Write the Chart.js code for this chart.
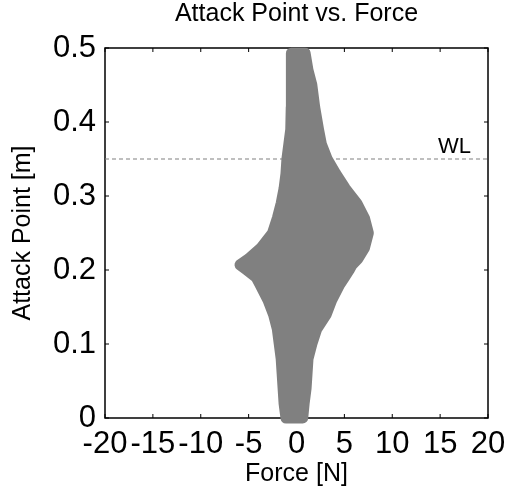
<!DOCTYPE html>
<html>
<head>
<meta charset="utf-8">
<script src="https://cdn.jsdelivr.net/npm/chart.js@4.4.0/dist/chart.umd.min.js"></script>
<style>
  html, body { margin: 0; padding: 0; background: #fff; }
  canvas { display: block; }
</style>
</head>
<body>
<canvas id="chart" width="509" height="501"></canvas>
<script>
// Envelope of the attack point cloud
const attackLevels = [0, 0.02, 0.04, 0.06, 0.08, 0.10, 0.12, 0.14, 0.16, 0.18, 0.19, 0.20, 0.207, 0.215, 0.23, 0.25, 0.27, 0.29, 0.31, 0.33, 0.35, 0.37, 0.39, 0.42, 0.45, 0.47, 0.493];
const forceMin = [-1.1, -1.3, -1.4, -1.5, -1.6, -1.8, -2.0, -2.4, -3.0, -3.8, -4.2, -5.2, -5.9, -5.0, -3.7, -2.5, -2.0, -1.6, -1.3, -1.1, -1.0, -0.8, -0.6, -0.55, -0.55, -0.55, -0.5];
const forceMax = [0.65, 0.8, 1.0, 1.1, 1.2, 1.6, 2.1, 3.1, 3.7, 4.5, 5.0, 5.5, 5.8, 6.4, 7.1, 7.5, 7.1, 6.3, 5.1, 4.1, 3.2, 2.6, 2.3, 1.9, 1.6, 1.2, 0.9];

// Water line
const waterLine = 0.35;
const waterLabel = 'WL';

const xTicks = [-20, -15, -10, -5, 0, 5, 10, 15, 20];
const yTicks = [0, 0.1, 0.2, 0.3, 0.4, 0.5];

const chartTitle = 'Attack Point vs. Force';
const gray = 'rgb(128,128,128)';
const font = 'Arial, "Liberation Sans", sans-serif';

// closed outline: up the left side, down the right side
const outline = [];
for (let i = 0; i < attackLevels.length; i++) outline.push({ x: forceMin[i], y: attackLevels[i] });
for (let i = attackLevels.length - 1; i >= 0; i--) outline.push({ x: forceMax[i], y: attackLevels[i] });
outline.push({ x: forceMin[0], y: attackLevels[0] });

// box with inward ticks on every side (under the data), title and WL label
const boxPlugin = {
  id: 'box',
  beforeDatasetsDraw(chart) {
    const { ctx, chartArea: a, scales: { x, y } } = chart;
    ctx.save();
    ctx.strokeStyle = '#000';
    ctx.lineWidth = 1.5;
    ctx.strokeRect(a.left, a.top, a.right - a.left, a.bottom - a.top);
    ctx.lineWidth = 1;
    const t = 4;
    ctx.beginPath();
    xTicks.forEach(v => {
      const px = x.getPixelForValue(v);
      ctx.moveTo(px, a.bottom); ctx.lineTo(px, a.bottom - t);
      ctx.moveTo(px, a.top); ctx.lineTo(px, a.top + t);
    });
    yTicks.forEach(v => {
      const py = y.getPixelForValue(v);
      ctx.moveTo(a.left, py); ctx.lineTo(a.left + t, py);
      ctx.moveTo(a.right, py); ctx.lineTo(a.right - t, py);
    });
    ctx.stroke();
    ctx.restore();
  },
  afterDraw(chart) {
    const { ctx, chartArea: a, scales: { y } } = chart;
    ctx.save();
    ctx.fillStyle = '#000';
    ctx.font = '25px ' + font;
    ctx.textAlign = 'center';
    ctx.textBaseline = 'middle';
    ctx.fillText(chartTitle, (a.left + a.right) / 2, 14);
    ctx.font = '22px ' + font;
    ctx.textAlign = 'right';
    ctx.textBaseline = 'bottom';
    ctx.fillText(waterLabel, a.right - 17, y.getPixelForValue(waterLine) - 1);
    ctx.restore();
  }
};

new Chart(document.getElementById('chart'), {
  type: 'scatter',
  data: {
    datasets: [
      {
        data: outline,
        showLine: true,
        fill: 'shape',
        clip: false,
        backgroundColor: gray,
        borderColor: gray,
        borderWidth: 11,
        borderJoinStyle: 'round',
        borderCapStyle: 'round',
        pointRadius: 4,
        pointBackgroundColor: gray,
        pointBorderWidth: 0
      },
      {
        data: [{ x: -20, y: waterLine }, { x: 20, y: waterLine }],
        showLine: true,
        borderColor: gray,
        borderWidth: 1.2,
        borderDash: [4, 3],
        pointRadius: 0
      }
    ]
  },
  options: {
    responsive: false,
    animation: false,
    layout: { padding: { left: 0, right: 21, top: 48, bottom: 0 } },
    plugins: {
      legend: { display: false },
      tooltip: { enabled: false },
      title: { display: false }
    },
    scales: {
      x: {
        type: 'linear',
        min: -20, max: 20,
        afterBuildTicks: s => { s.ticks = xTicks.map(v => ({ value: v })); },
        afterFit: s => { s.height = 83; s.paddingLeft = 0; s.paddingRight = 0; },
        grid: { display: false, drawTicks: false },
        border: { display: false },
        ticks: { color: '#000', font: { family: font, size: 31 }, padding: 8, maxRotation: 0, autoSkip: false },
        title: { display: true, text: 'Force [N]', color: '#000', font: { family: font, size: 25 }, padding: { bottom: 12 } }
      },
      y: {
        type: 'linear',
        min: 0, max: 0.5,
        afterBuildTicks: s => { s.ticks = yTicks.map(v => ({ value: v })); },
        afterFit: s => { s.width = 105; s.paddingTop = 0; s.paddingBottom = 0; },
        grid: { display: false, drawTicks: false },
        border: { display: false },
        ticks: { color: '#000', font: { family: font, size: 31 }, padding: 9 },
        title: { display: true, text: 'Attack Point [m]', color: '#000', font: { family: font, size: 25 }, padding: { top: 8 } }
      }
    }
  },
  plugins: [boxPlugin]
});
</script>
</body>
</html>
